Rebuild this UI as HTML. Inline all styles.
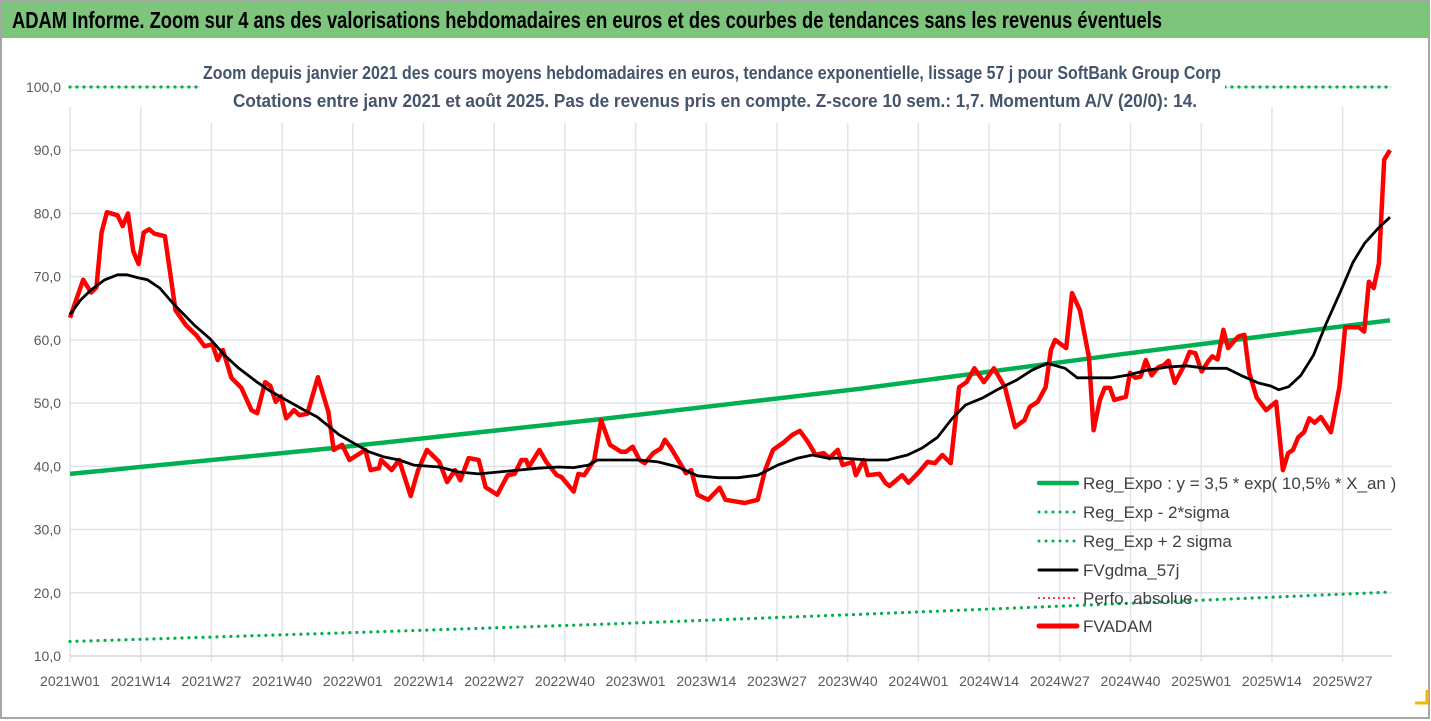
<!DOCTYPE html>
<html><head><meta charset="utf-8">
<style>
html,body{margin:0;padding:0;background:#fff;}
svg{display:block;font-family:"Liberation Sans Narrow","Liberation Sans",sans-serif;}
</style></head>
<body>
<svg id="chart" width="1431" height="721" viewBox="0 0 1431 721" xmlns="http://www.w3.org/2000/svg">
<rect x="0" y="0" width="1431" height="721" fill="#fff"/>
<rect x="1" y="1" width="1428" height="717" fill="none" stroke="#a6a6a6" stroke-width="2"/>
<rect x="2" y="2" width="1427" height="36" fill="#7dc57d"/>
<text x="12" y="28" font-size="23" font-weight="bold" fill="#000" textLength="1150" lengthAdjust="spacingAndGlyphs">ADAM Informe. Zoom sur 4 ans des valorisations hebdomadaires en euros et des courbes de tendances sans les revenus éventuels</text>
<g id="grid"></g>
<g id="series"></g>
<g id="axes"></g>
<rect x="200" y="55" width="1025" height="68" fill="#fff"/>
<text x="712" y="79" text-anchor="middle" font-size="18" font-weight="bold" fill="#44546a" textLength="1018" lengthAdjust="spacingAndGlyphs">Zoom depuis janvier 2021 des cours moyens hebdomadaires en euros, tendance exponentielle, lissage 57 j pour SoftBank Group Corp</text>
<text x="715" y="107" text-anchor="middle" font-size="18" font-weight="bold" fill="#44546a" textLength="964" lengthAdjust="spacingAndGlyphs">Cotations entre janv 2021 et août 2025. Pas de revenus pris en compte. Z-score 10 sem.: 1,7. Momentum A/V (20/0): 14.</text>
<g id="legend"></g>
<path d="M1415 703 L1427 703 L1427 690" stroke="#f5b800" stroke-width="3" fill="none"/>
</svg>
<script>
const redT = [0,2.5,4,5,6,7,9,10,11,12,13,14,15,16,18,20,22,24,25.5,27,28,29,30.6,32.5,34.4,35.5,37,38,39,40,41,42.5,43.5,45,47,49,50,51.6,53,56,57,58.6,59,61,62.4,64.6,66,67.7,70,71.5,73,74,75.6,77.5,78.8,81,83,84.3,85.6,86.5,87,89,90.3,92.3,93.2,95.5,96.4,97.5,99.4,100.7,102.4,104.5,105.4,106.7,108,109,110.6,112,112.8,113.8,115.3,116.8,117.8,119,121,123.2,124.3,128,128.9,130.4,131.8,133.3,135.2,137,138.4,139.9,141.4,142.9,144,145.6,146.5,148.4,149,150.5,151.3,153.5,154.6,155.4,157.8,159,161,162.6,164,165.4,167,168.6,170,171.5,173.3,175.2,177.3,179.2,181,182,183.5,185,186,186.8,188.9,190,191.5,193.2,194.1,195.3,196.2,197.2,198,200.2,201,202,203,204,205.1,206.4,207.4,208.3,209.5,211.3,212.3,213.4,214.6,215.8,216.6,217.6,218.7,219.6,221.5,222.7,223.6,225,226.8,228.7,230,231,231.9,232.9,234,235,236,237.2,239.1,240.7,241.8,244.4,245.4,246.3,247.2,248.2,249.2,250.3];
const redV = [63.5,69.5,67.5,68.3,77,80.2,79.7,78,80,74,72,77,77.5,76.8,76.4,64.7,62.3,60.7,59,59.3,56.8,58.4,54,52.4,48.9,48.4,53.3,52.7,50.2,51.1,47.6,48.9,48.1,48.3,54.1,48.6,42.6,43.4,41,42.6,39.4,39.7,41,39.4,41,35.3,39.4,42.6,40.7,37.5,39.4,37.8,41.3,41,36.7,35.5,38.6,38.8,41,41,39.9,42.6,40.7,38.6,38.3,36,38.8,38.6,41,47.3,43.4,42.3,42.3,43.1,41,40.5,42.1,42.8,44.2,43.1,41,38.9,39.4,35.5,34.7,36.6,34.7,34.2,34.4,34.7,39.4,42.6,43.7,45,45.6,43.9,41.8,42.1,41.3,42.6,40.2,40.7,38.6,41,38.6,38.8,37.4,36.9,38.6,37.4,39.1,40.7,40.5,41.8,40.5,52.5,53.3,55.5,53.3,55.5,52.5,46.2,47.3,49.4,50.2,52.5,58.4,60,58.7,67.4,64.7,57.3,45.7,50.5,52.4,52.4,50.5,51,54.8,54,54.2,56.8,54.4,55.7,56,56.7,53.2,56,58.1,57.9,55,56.6,57.4,56.9,61.6,58.7,60.5,60.8,54.8,50.9,48.9,50.2,39.4,42.1,42.6,44.6,45.4,47.6,46.9,47.8,45.4,52.5,62,62,61.3,69.2,68.2,72.1,88.5,90,90.5];
const maT = [0,2,4,6.6,9,10.8,13,14.7,17,19.3,20.8,23.6,26.5,29.3,32,35.5,37.8,41.6,44.4,46.9,48.8,51,53.3,56.7,59.5,62.4,65.2,70,73.7,77.5,81.3,85,88.8,92.6,95.5,98.3,100,103.9,107.8,111.5,115.3,119,122.9,126.7,130.4,134.2,138,140.8,143.7,146.5,151.2,155,158.8,161.6,164.5,167.3,169.8,173,175.8,179.6,182.4,185.3,188.7,191,193.8,197.6,200.4,204.2,208,211.7,215.5,219.3,222,225.3,227.7,229.2,231.1,233.4,235.8,238.1,240.9,243.3,245.5,248,250.3];
const maV = [64,66.3,67.9,69.5,70.3,70.3,69.8,69.5,68.2,66,64.7,62.3,60.2,57.6,55.5,53.3,52,50.2,48.9,47.8,46.5,45,43.9,42.3,41.5,41,40.2,39.9,39.1,38.8,39.1,39.4,39.7,39.9,39.8,40.2,41,41,41,40.7,39.9,38.5,38.2,38.2,38.6,40.2,41.3,41.8,41.3,41.3,41,41,41.8,42.9,44.6,47.6,49.7,50.8,52.1,53.7,55.2,56.3,55.5,54,54,54,54.4,55.2,55.7,55.9,55.5,55.5,54.4,53.2,52.7,52.1,52.6,54.4,57.6,62.4,67.6,72.3,75.3,77.6,79.4];
const trendT = [0,50,100,150,200,250.3];
const trendV = [38.8,42.9,47.4,52.3,57.8,63.1];
const lowV = [12.3,13.6,15.0,16.6,18.3,20.1];
const highV = [100,100,100,100,100,100];
const yTicks = [10,20,30,40,50,60,70,80,90,100];
const xTickLabels = ["2021W01","2021W14","2021W27","2021W40","2022W01","2022W14","2022W27","2022W40","2023W01","2023W14","2023W27","2023W40","2024W01","2024W14","2024W27","2024W40","2025W01","2025W14","2025W27"];

const NS = "http://www.w3.org/2000/svg";
const X0 = 70, X1 = 1390, T1 = 250.3, XR = 1392;
const Y0 = 656, Y1 = 87;
const xs = t => X0 + t * (X1 - X0) / T1;
const ys = v => Y0 - (v - 10) * (Y0 - Y1) / 90;
const tickStep = 70.7 * T1 / (X1 - X0);
function mk(tag, attrs, parent) {
  const e = document.createElementNS(NS, tag);
  for (const k in attrs) e.setAttribute(k, attrs[k]);
  parent.appendChild(e);
  return e;
}
const grid = document.getElementById('grid');
const axes = document.getElementById('axes');
const series = document.getElementById('series');
const legend = document.getElementById('legend');

yTicks.forEach(v => {
  const l = mk('line', {x1: X0, x2: XR, y1: ys(v), y2: ys(v), stroke: '#e1e3e8', 'stroke-width': 1.5}, grid);
  
  
  const t = mk('text', {x: 61, y: ys(v) + 5, 'text-anchor': 'end', 'font-size': 14, fill: '#595959'}, axes);
  t.textContent = v.toFixed(1).replace('.', ',');
  
  
});
xTickLabels.forEach((lab, i) => {
  const x = xs(i * tickStep);
  const l = mk('line', {x1: x, x2: x, y1: Y1 + 20, y2: Y0 + 6, stroke: '#e1e3e8', 'stroke-width': 1.5}, grid);
  
  
  const t = mk('text', {x: x, y: 686, 'text-anchor': 'middle', 'font-size': 14, fill: '#595959'}, axes);
  t.textContent = lab;
  
  
});
const ax = mk('line', {x1: X0, x2: XR, y1: Y0, y2: Y0, stroke: '#d9d9d9', 'stroke-width': 1.5}, axes);



function pathOf(T, V) { return T.map((t, i) => (i ? 'L' : 'M') + xs(t).toFixed(1) + ' ' + ys(V[i]).toFixed(1)).join(' '); }

const pHigh = mk('path', {d: pathOf(trendT, highV), fill: 'none', stroke: '#00b050', 'stroke-width': 3.2, 'stroke-dasharray': '0 7', 'stroke-linecap': 'round'}, series);


const pLow = mk('path', {d: pathOf(trendT, lowV), fill: 'none', stroke: '#00b050', 'stroke-width': 3.2, 'stroke-dasharray': '0 7', 'stroke-linecap': 'round'}, series);


const pTrend = mk('path', {d: pathOf(trendT, trendV), fill: 'none', stroke: '#00b050', 'stroke-width': 4.5}, series);


const pRed = mk('path', {d: pathOf(redT, redV), fill: 'none', stroke: '#ff0000', 'stroke-width': 4.5, 'stroke-linejoin': 'round'}, series);


const pMa = mk('path', {d: pathOf(maT, maV), fill: 'none', stroke: '#000', 'stroke-width': 2.8, 'stroke-linejoin': 'round'}, series);



const legItems = [
  ["Reg_Expo : y = 3,5 * exp( 10,5% *  X_an )", '#00b050', 4.5, null],
  ["Reg_Exp - 2*sigma", '#00b050', 3, '0 7'],
  ["Reg_Exp + 2 sigma", '#00b050', 3, '0 7'],
  ["FVgdma_57j", '#000', 3, null],
  ["Perfo. absolue", '#ff0000', 2, '0 5'],
  ["FVADAM", '#ff0000', 5, null]
];
const legY = [483, 512, 541, 570, 598, 626];
legItems.forEach((it, i) => {
  const a = {x1: 1039, x2: 1077, y1: legY[i], y2: legY[i], stroke: it[1], 'stroke-width': it[2], 'stroke-linecap': 'round'};
  if (it[3]) a['stroke-dasharray'] = it[3];
  const l = mk('line', a, legend);
  
  
  const t = mk('text', {x: 1083, y: legY[i] + 6, 'font-size': 17, fill: '#404040'}, legend);
  t.textContent = it[0];
  
  
});
</script>
</body></html>
